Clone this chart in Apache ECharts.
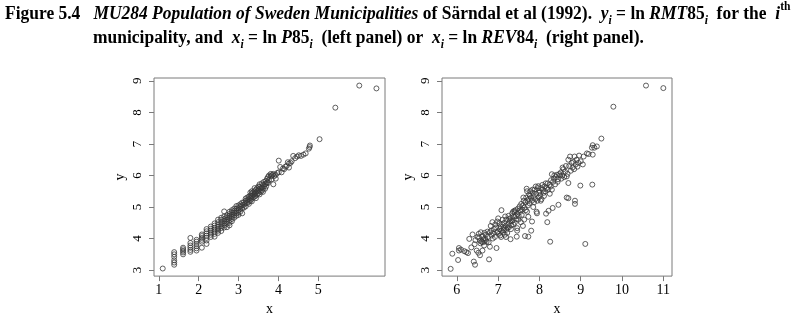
<!DOCTYPE html>
<html>
<head>
<meta charset="utf-8">
<script src="https://cdn.jsdelivr.net/npm/echarts@6/dist/echarts.min.js"></script>
<style>
html, body { margin: 0; padding: 0; background: #fff; }
#chart { width: 797px; height: 321px; }
</style>
</head>
<body>
<div id="chart"></div>
<script>
// left panel: x = ln P85, y = ln RMT85
var leftPoints = [
  [1.099,3.05],
  [1.386,3.17],[1.386,3.24],[1.386,3.31],[1.386,3.42],[1.386,3.5],[1.386,3.57],
  [1.609,3.5],[1.609,3.56],[1.609,3.61],[1.609,3.66],[1.609,3.71],
  [1.792,3.58],[1.792,3.64],[1.792,3.71],[1.792,3.78],[1.792,3.86],[1.792,4.02],
  [1.946,3.62],[1.946,3.69],[1.946,3.76],[1.946,3.83],[1.946,3.9],[1.946,3.96],
  [2.079,3.71],[2.079,3.9],[2.079,3.96],[2.079,4.02],[2.079,4.08],[2.079,4.13],
  [2.197,3.83],[2.197,3.94],[2.197,4.02],[2.197,4.09],[2.197,4.16],[2.197,4.23],[2.197,4.3],
  [2.303,4.05],[2.303,4.12],[2.303,4.18],[2.303,4.25],[2.303,4.31],[2.303,4.38],
  [2.398,4.06],[2.398,4.15],[2.398,4.22],[2.398,4.28],[2.398,4.34],[2.398,4.41],[2.398,4.48],
  [2.485,4.18],[2.485,4.25],[2.485,4.3],[2.485,4.37],[2.485,4.44],[2.485,4.52],[2.485,4.6],
  [2.565,4.24],[2.565,4.33],[2.565,4.39],[2.565,4.45],[2.565,4.52],[2.565,4.6],[2.565,4.66],
  [2.639,4.35],[2.639,4.42],[2.639,4.48],[2.639,4.55],[2.639,4.62],[2.639,4.7],[2.639,4.86],
  [2.708,4.36],[2.708,4.47],[2.708,4.53],[2.708,4.6],[2.708,4.67],[2.708,4.74],
  [2.773,4.42],[2.773,4.5],[2.773,4.58],[2.773,4.66],[2.773,4.72],[2.773,4.78],[2.773,4.85],
  [2.833,4.55],[2.833,4.62],[2.833,4.69],[2.833,4.76],[2.833,4.83],[2.833,4.9],
  [2.89,4.66],[2.89,4.74],[2.89,4.82],[2.89,4.88],[2.89,4.95],
  [2.944,4.72],[2.944,4.8],[2.944,4.87],[2.944,4.95],[2.944,5.03],
  [2.996,4.75],[2.996,4.82],[2.996,4.9],[2.996,4.97],[2.996,5.05],
  [3.045,4.85],[3.045,4.94],[3.045,5.02],[3.045,5.09],
  [3.091,4.8],[3.091,4.96],[3.091,5.06],[3.091,5.14],
  [3.135,4.98],[3.135,5.07],[3.135,5.15],
  [3.178,5.02],[3.178,5.12],[3.178,5.2],[3.178,5.27],
  [3.219,5.13],[3.219,5.22],[3.219,5.3],
  [3.258,5.1],[3.258,5.17],[3.258,5.25],[3.258,5.33],
  [3.296,5.2],[3.296,5.28],[3.296,5.36],[3.296,5.46],
  [3.332,5.18],[3.332,5.26],[3.332,5.35],[3.332,5.43],[3.332,5.5],
  [3.367,5.3],[3.367,5.39],[3.367,5.47],
  [3.401,5.33],[3.401,5.42],[3.401,5.5],[3.401,5.6],
  [3.434,5.28],[3.434,5.36],[3.434,5.46],[3.434,5.55],
  [3.466,5.4],[3.466,5.5],[3.466,5.6],
  [3.497,5.44],[3.497,5.55],[3.497,5.65],
  [3.526,5.4],[3.526,5.52],[3.526,5.64],[3.526,5.72],
  [3.555,5.48],[3.555,5.6],
  [3.584,5.52],[3.584,5.62],[3.584,5.75],
  [3.611,5.48],[3.611,5.58],[3.611,5.7],
  [3.638,5.66],[3.638,5.8],
  [3.664,5.58],[3.664,5.72],[3.689,5.65],[3.689,5.74],[3.689,5.83],
  [3.714,5.78],[3.714,5.9],
  [3.738,5.76],[3.738,5.95],[3.761,5.85],[3.761,6.0],
  [3.807,5.97],[3.807,6.05],[3.829,5.88],[3.829,6.0],[3.85,6.02],
  [3.871,6.05],[3.871,5.72],[3.892,5.98],[3.932,6.02],[3.932,5.9],[3.97,6.08],
  [4.007,6.47],[4.007,6.1],[4.043,6.27],[4.078,6.1],[4.111,6.22],
  [4.143,6.2],[4.174,6.28],[4.205,6.3],[4.234,6.42],[4.263,6.38],[4.263,6.25],
  [4.304,6.4],[4.331,6.45],[4.369,6.62],[4.419,6.55],[4.466,6.6],
  [4.511,6.64],[4.564,6.62],[4.625,6.66],[4.682,6.7],
  [4.762,6.85],[4.779,6.9],[4.787,6.95],
  [5.03,7.15],[5.425,8.15],[6.025,8.85],[6.455,8.76]
];

// right panel: x = ln REV84, y = ln RMT85
var rightPoints = [
  [5.85,3.04],[5.89,3.52],[6.03,3.32],[6.05,3.62],[6.05,3.7],[6.1,3.65],[6.18,3.6],
  [6.23,3.57],[6.27,3.54],[6.3,3.99],[6.35,3.72],[6.38,4.13],[6.41,3.27],[6.44,3.17],
  [6.43,3.82],[6.45,3.95],[6.48,3.62],[6.5,4.05],[6.52,3.55],[6.53,4.15],[6.54,4.03],
  [6.56,3.93],[6.57,3.85],[6.56,3.47],[6.58,4.2],[6.6,3.9],[6.62,3.62],[6.62,4.08],
  [6.63,3.88],[6.64,3.97],[6.66,3.78],[6.67,4.18],[6.68,4.0],[6.7,4.12],[6.7,3.95],
  [6.72,3.9],[6.74,4.22],[6.75,4.05],[6.77,3.88],[6.78,3.34],[6.8,3.74],[6.8,4.2],
  [6.82,4.4],[6.83,4.25],[6.84,4.1],[6.86,4.52],[6.87,4.0],[6.88,4.17],[6.9,4.3],
  [6.92,4.05],[6.93,4.45],[6.95,4.35],[6.96,3.7],[6.97,4.2],[6.98,4.54],[7.0,4.64],
  [7.0,4.22],[7.02,4.15],[7.03,4.48],[7.04,4.3],[7.05,4.1],[7.06,4.38],[7.07,4.05],
  [7.08,4.9],[7.08,4.25],[7.1,4.45],[7.11,4.6],[7.12,4.2],[7.13,4.33],[7.14,4.27],
  [7.15,4.5],[7.16,4.12],[7.17,4.7],[7.18,4.4],[7.19,4.05],[7.2,4.6],[7.2,4.28],
  [7.22,4.18],[7.23,4.35],[7.24,4.45],[7.25,4.72],[7.26,4.36],[7.27,4.62],[7.28,4.55],
  [7.3,3.98],[7.3,4.65],[7.31,4.3],[7.32,4.42],[7.33,4.55],[7.34,4.8],[7.35,4.58],
  [7.36,4.85],[7.37,4.45],[7.38,4.7],[7.39,4.88],[7.4,4.83],[7.4,4.5],[7.42,4.9],
  [7.43,4.72],[7.44,4.62],[7.45,4.06],[7.46,4.33],[7.46,4.25],[7.47,4.78],[7.48,4.95],
  [7.49,4.6],[7.5,4.7],[7.52,5.02],[7.53,4.9],[7.54,4.85],[7.55,4.52],[7.56,5.1],
  [7.57,4.75],[7.58,4.92],[7.6,5.05],[7.6,4.4],[7.61,5.3],[7.62,5.2],[7.63,4.6],
  [7.64,4.98],[7.65,4.08],[7.66,5.15],[7.67,4.9],[7.68,5.3],[7.69,5.58],[7.7,4.85],
  [7.7,5.5],[7.71,5.2],[7.72,5.05],[7.73,4.69],[7.73,4.06],[7.74,5.25],[7.75,5.4],
  [7.76,5.12],[7.77,5.35],[7.78,5.5],[7.8,4.25],[7.8,5.3],[7.82,4.54],[7.82,5.2],
  [7.83,5.55],[7.84,5.45],[7.85,5.0],[7.86,5.35],[7.87,5.15],[7.88,5.55],[7.9,5.25],
  [7.91,5.65],[7.92,5.42],[7.93,4.85],[7.94,4.8],[7.95,5.2],[7.96,5.6],[7.97,5.66],
  [7.98,5.3],[7.99,5.45],[8.0,5.5],[8.02,5.38],[8.03,5.2],[8.04,5.6],[8.05,5.25],
  [8.07,5.7],[8.08,5.55],[8.1,5.45],[8.11,5.35],[8.12,5.65],[8.14,5.5],[8.15,5.75],
  [8.16,4.79],[8.18,5.6],[8.19,4.52],[8.2,5.75],[8.21,5.55],[8.22,4.88],[8.24,5.7],
  [8.25,5.42],[8.26,3.9],[8.27,5.65],[8.28,5.85],[8.3,6.04],[8.3,5.55],[8.32,4.97],
  [8.33,5.8],[8.35,5.9],[8.36,6.0],[8.38,5.72],[8.4,5.95],[8.42,6.02],[8.44,5.8],
  [8.45,5.88],[8.46,5.07],[8.48,6.05],[8.5,6.0],[8.52,6.1],[8.53,5.9],[8.55,6.0],
  [8.56,6.25],[8.58,6.2],[8.6,5.95],[8.62,6.12],[8.64,6.3],[8.66,5.3],[8.66,5.97],
  [8.68,6.05],[8.7,5.28],[8.7,5.76],[8.7,6.5],[8.72,6.3],[8.74,6.6],[8.76,6.15],
  [8.78,6.4],[8.8,6.25],[8.82,6.43],[8.84,6.2],[8.85,6.6],[8.86,5.2],[8.86,5.1],
  [8.88,6.35],[8.9,6.5],[8.92,6.28],[8.94,6.4],[8.96,6.63],[8.99,5.68],[9.0,6.45],
  [9.05,6.35],[9.07,6.6],[9.11,3.83],[9.15,6.7],[9.19,6.68],[9.27,6.88],[9.28,5.71],
  [9.29,6.96],[9.29,6.66],[9.33,6.88],[9.39,6.92],[9.5,7.17],[9.79,8.18],[10.58,8.85],
  [11.0,8.77]
];

var leftXTicks = [1, 2, 3, 4, 5];
var rightXTicks = [6, 7, 8, 9, 10, 11];
var yTicks = [3, 4, 5, 6, 7, 8, 9];

var serif = "'Liberation Serif', 'Times New Roman', serif";
var frameColor = "#7a7a7a";

function xAxisFor(idx, min, max, ticks) {
	return {
		type: "value",
		gridIndex: idx,
		min: min,
		max: max,
		name: "x",
		nameLocation: "middle",
		nameGap: 25,
		nameTextStyle: { fontFamily: serif, fontSize: 14, color: "#000" },
		axisLine: { show: false },
		axisTick: { show: true, length: 5, customValues: ticks, lineStyle: { color: frameColor } },
		axisLabel: { customValues: ticks, margin: 7, fontFamily: serif, fontSize: 14, color: "#000" },
		splitLine: { show: false },
	};
}

function yAxisFor(idx) {
	return {
		type: "value",
		gridIndex: idx,
		min: 2.81,
		max: 9.09,
		name: "y",
		nameLocation: "middle",
		nameRotate: 90,
		nameGap: 27,
		nameTextStyle: { fontFamily: serif, fontSize: 14, color: "#000" },
		axisLine: { show: false },
		axisTick: { show: true, length: 5, customValues: yTicks, lineStyle: { color: frameColor } },
		axisLabel: { customValues: yTicks, rotate: 90, margin: 10, fontFamily: serif, fontSize: 13, color: "#000" },
		splitLine: { show: false },
	};
}

var pointStyle = {
	symbol: "circle",
	symbolSize: 5,
	itemStyle: { color: "rgba(0,0,0,0)", borderColor: "#3a3a3a", borderWidth: 1 },
	emphasis: { disabled: true },
	silent: true,
};

// title, Times-like bold with italic symbols, sub/superscripts
var rich = {
	b: { fontFamily: serif, fontSize: 18, fontWeight: "bold", lineHeight: 26, verticalAlign: "middle" },
	bi: { fontFamily: serif, fontSize: 18, fontWeight: "bold", fontStyle: "italic", lineHeight: 26, verticalAlign: "middle" },
	sub: { fontFamily: serif, fontSize: 12, fontWeight: "bold", fontStyle: "italic", lineHeight: 12, verticalAlign: "bottom" },
	sup: { fontFamily: serif, fontSize: 12, fontWeight: "bold", lineHeight: 12, verticalAlign: "top" },
};

var line1 = "{b|Figure 5.4   }{bi|MU284 Population of Sweden Municipalities}{b| of Särndal et al (1992).  }" +
	"{bi|y}{sub|i}{b| = ln }{bi|RMT}{b|85}{sub|i}{b|  for the  }{bi|i}{sup|th}";
var line2 = "{b|municipality, and  }{bi|x}{sub|i}{b| = ln }{bi|P}{b|85}{sub|i}{b|  (left panel) or  }" +
	"{bi|x}{sub|i}{b| = ln }{bi|REV}{b|84}{sub|i}{b|  (right panel).}";

var option = {
	backgroundColor: "#fff",
	animation: false,
	grid: [
		{ left: 154, top: 78, width: 231, height: 205, show: true, borderColor: frameColor, borderWidth: 1 },
		{ left: 442, top: 78, width: 230, height: 205, show: true, borderColor: frameColor, borderWidth: 1 },
	],
	xAxis: [xAxisFor(0, 0.88, 6.67, leftXTicks), xAxisFor(1, 5.64, 11.21, rightXTicks)],
	yAxis: [yAxisFor(0), yAxisFor(1)],
	series: [
		Object.assign({ type: "scatter", xAxisIndex: 0, yAxisIndex: 0, data: leftPoints }, pointStyle),
		Object.assign({ type: "scatter", xAxisIndex: 1, yAxisIndex: 1, data: rightPoints }, pointStyle),
	],
	graphic: [
		{ type: "text", left: 5, top: 1, scaleX: 0.97, style: { text: line1, rich: rich, fill: "#000" } },
		{ type: "text", left: 93, top: 29, scaleX: 0.97, style: { text: line2, rich: rich, fill: "#000" } },
	],
};

var myChart = echarts.init(document.getElementById("chart"), null, { renderer: "canvas" });
myChart.setOption(option);
</script>
</body>
</html>
